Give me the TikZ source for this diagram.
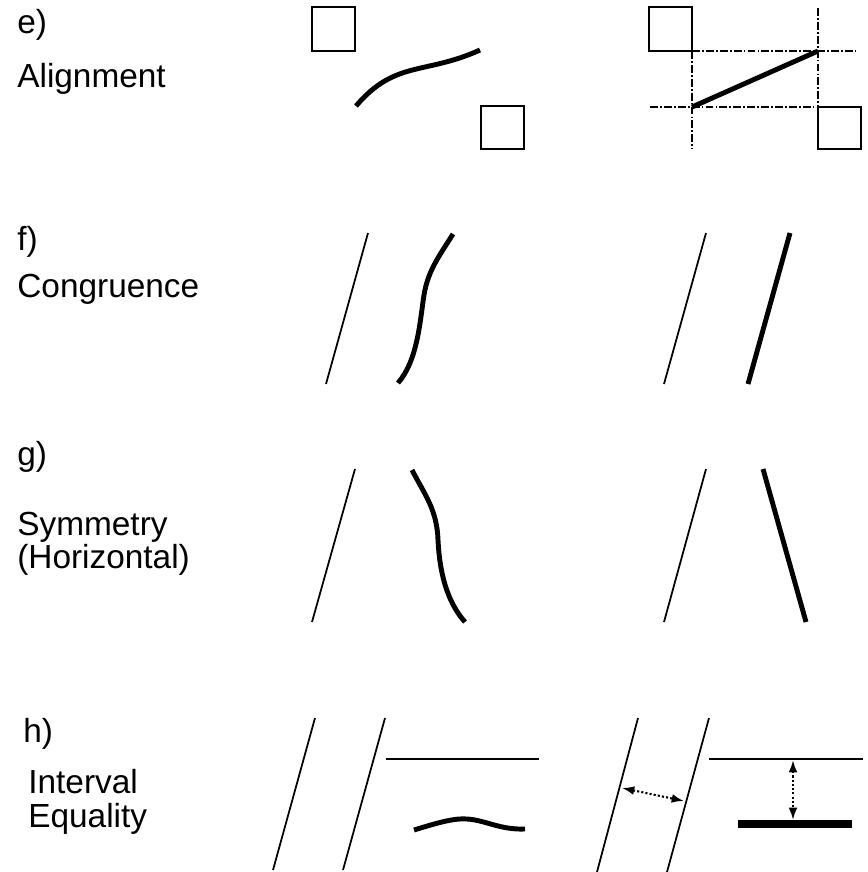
\documentclass[tikz,border=0pt]{standalone}
\usepackage{fontspec}
\setmainfont{Liberation Sans}
\usetikzlibrary{arrows.meta}

\tikzset{
  rotulo/.style={anchor=base west, inner sep=0pt, font=\fontsize{19}{23}\selectfont},
  fina/.style={line width=1pt},
  grossa/.style={line width=2.8pt},
  caixa/.style={line width=1.2pt},
  eixo/.style={line width=1.1pt, dash pattern=on 4.5pt off 1.2pt on 1pt off 1.2pt},
  cota/.style={line width=1.2pt, dash pattern=on 1.2pt off 1.2pt, {Latex[length=7pt,width=5pt]}-{Latex[length=7pt,width=5pt]}}
}

\begin{document}
\begin{tikzpicture}[x=0.02cm, y=-0.02cm]
        \useasboundingbox (0,0) rectangle (868,872);

        % Alinhamento
        \node[rotulo] (labelE) at (17,33) {e)};
        \node[rotulo] (nameE) at (17,87) {Alignment};
        \draw[caixa] (312,7) rectangle (355,51);
        \draw[caixa] (481,106) rectangle (524,149);
        \draw[grossa] (356,106) .. controls (395,60) and (425,75) .. (480,50);

        \draw[caixa] (649,7) rectangle (692,51);
        \draw[caixa] (818,107) rectangle (861,149);
        \draw[eixo] (692,51) -- (858,51);
        \draw[eixo] (650,107) -- (818,107);
        \draw[eixo] (692,51) -- (692,149);
        \draw[eixo] (818,8) -- (818,107);
        \draw[grossa] (692,107) -- (818,51);

        % Congruencia
        \node[rotulo] (labelF) at (17,250) {f)};
        \node[rotulo] (nameF) at (17,297) {Congruence};
        \draw[fina] (326,384) -- (368,233);
        \draw[grossa] (398,383) .. controls (418,360) and (420,320) .. (424,295)
                      .. controls (428,270) and (440,255) .. (453,234);

        \draw[fina] (664,384) -- (706,233);
        \draw[grossa] (748,384) -- (790,233);

        % Simetria
        \node[rotulo] (labelG) at (17,465) {g)};
        \node[rotulo] (nameG) at (17,535) {Symmetry};
        \node[rotulo] (nameG2) at (17,568) {(Horizontal)};
        \draw[fina] (312,622) -- (355,469);
        \draw[grossa] (412,470) .. controls (425,495) and (437,510) .. (438,540)
                      .. controls (440,580) and (450,605) .. (465,622);

        \draw[fina] (664,622) -- (706,469);
        \draw[grossa] (763,469) -- (806,622);

        % Igualdade de intervalo
        \node[rotulo] (labelH) at (23,742) {h)};
        \node[rotulo] (nameH) at (28,793) {Interval};
        \node[rotulo] (nameH2) at (28,827) {Equality};
        \draw[fina] (273,870) -- (315,718);
        \draw[fina] (343,870) -- (385,718);
        \draw[fina] (386,759) -- (539,759);
        \draw[grossa] (414,830) .. controls (440,822) and (455,818) .. (467,819)
                      .. controls (485,820) and (500,830) .. (525,829);

        \draw[fina] (597,872) -- (638,718);
        \draw[fina] (667,872) -- (709,718);
        \draw[fina] (709,759) -- (863,759);
        \fill (738,820) rectangle (852,828);
        \coordinate (d1) at (622,788);
        \coordinate (d2) at (684,801);
        \coordinate (t1) at (793,760);
        \coordinate (t2) at (793,820);
        \draw[cota] (d1) -- (d2);
        \draw[cota] (t1) -- (t2);
\end{tikzpicture}
\end{document}
